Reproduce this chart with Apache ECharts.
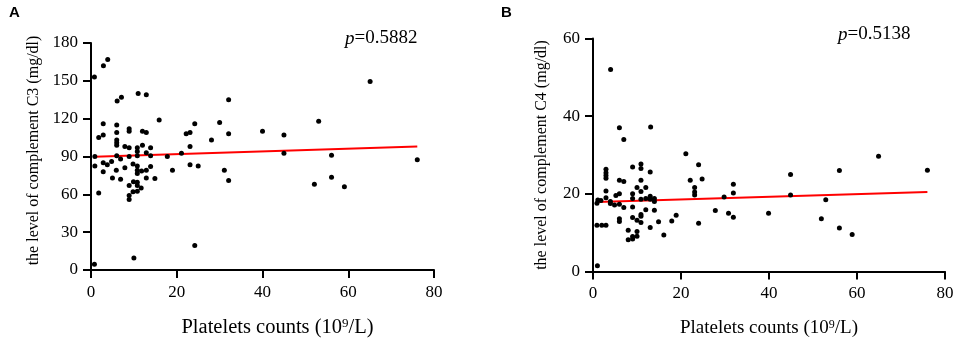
<!DOCTYPE html>
<html><head><meta charset="utf-8">
<script src="https://cdn.jsdelivr.net/npm/echarts@6/dist/echarts.min.js"></script>
<style>html,body{margin:0;padding:0;background:#fff}#c{width:957px;height:343px}</style>
</head><body><div id="c"></div>
<script>
// ---- data ----
const xTicks = [0, 20, 40, 60, 80];
const c3Ticks = [0, 30, 60, 90, 120, 150, 180];
const c4Ticks = [0, 20, 40, 60];

const c3Points = [
  [0.8,153],[2.9,162],[3.9,167],[6.1,134],[7.1,137],[11,140],[12.9,139],[15.9,119],
  [2.85,116],[6.0,115],[1.8,105],[2.85,107],[6.0,109],[8.9,112],[8.9,110],[12.0,110],[12.9,109],
  [6.0,103],[6.0,101],[6.0,99],[7.9,98],[8.9,97],[10.8,97],[10.8,94],[12.0,99],[13.9,97],[12.9,93],
  [0.9,90],[6.0,90.5],[6.9,88],[8.9,90],[10.8,90.5],[13.9,90.5],[17.8,90],
  [0.9,82.5],[2.85,85],[3.8,83.5],[4.8,86],[2.85,78],[5.9,79],[7.9,81],[9.8,84],[10.8,82.5],
  [10.8,79],[10.8,76.5],[11.8,78.5],[12.9,79],[13.9,82],[19.0,79],
  [5.0,73],[6.9,72],[8.9,67],[9.9,70],[10.8,69.5],[10.8,67],[12.9,73],[14.9,72.5],
  [9.8,62],[10.8,62.5],[11.7,65],[8.9,59],[8.9,56],[1.8,61],
  [10,9.5],[0.8,4.5],
  [21.1,92.5],[22.2,108],[23.1,109],[24.2,116],[23.1,98],[23.1,83.5],[24.2,19.5],[25.0,82.5],
  [28.1,103],[30.0,117],[32.1,135],[32.1,108],[31.1,79],[32.1,71],
  [40.0,110],[45.0,107],[45.0,92.5],[53.1,118],[52.1,68],[56.1,91],[56.1,73.5],[59.1,66],
  [65.1,149.5],[76.1,87.5]
];
const c4Points = [
  [1.0,1.5],[4.0,52],[6.0,37],[7.0,34],[13.1,37.2],
  [2.95,26.3],[2.95,25.4],[2.95,24.7],[2.95,24.0],[9.0,26.9],[10.9,27.7],[10.9,26.5],[13.0,25.6],
  [6.0,23.5],[7.0,23.2],[10.9,23.5],[10.0,21.6],[12.0,21.6],[10.9,20.6],[2.95,20.7],[6.0,20.0],
  [5.2,19.6],[9.0,20.0],[13.0,19.4],[2.95,19.0],
  [1.1,18.4],[1.8,18.3],[0.9,17.6],[3.95,18.0],[3.95,17.5],[4.9,17.1],[6.0,17.3],[7.0,16.5],
  [9.0,18.8],[9.0,16.6],[10.9,18.6],[12.0,18.8],[13.0,18.6],[13.95,18.8],[13.95,18.0],
  [12.0,15.9],[13.95,15.8],[10.9,14.7],[10.9,14.2],[10.0,13.2],[9.0,13.9],[6.0,13.6],[6.0,12.9],
  [13.0,11.3],[10.9,12.6],[0.9,11.9],[2.0,11.9],[2.95,11.9],
  [14.9,12.8],[16.1,9.4],[17.9,13.0],[18.9,14.5],
  [8.0,10.6],[8.0,8.2],[9.0,9.0],[9.0,8.4],[10.0,9.1],[10.0,10.3],
  [21.1,30.3],[22.1,23.5],[23.1,21.6],[23.1,20.5],[23.1,19.7],[24.0,27.5],[24.0,12.4],[24.8,23.8],
  [27.8,15.7],[29.8,19.2],[30.8,15.0],[31.9,22.5],[31.9,20.2],[31.9,14.0],[39.9,15.0],
  [44.9,25.0],[44.9,19.7],[51.9,13.6],[52.9,18.5],[56.0,26.0],[56.0,11.2],[58.9,9.5],
  [64.9,29.7],[76.0,26.1]
];
const c3Fit = [[0.8,89.8],[76.1,97.9]];
const c4Fit = [[0.9,17.9],[76.0,20.5]];
const panelLabels = ['A', 'B'];
const pValues = ['0.5882', '0.5138'];
const xTitle = 'Platelets counts (10{sup|9}/L)';
const yTitles = ['the level of complement C3 (mg/dl)', 'the level of complement C4 (mg/dl)'];

// ---- chart ----
const FONT = '"Liberation Serif", "Times New Roman", serif';
const chart = echarts.init(document.getElementById('c'), null, {renderer: 'canvas'});
const axisLineStyle = {color: '#000', width: 2};

function xAxisCfg(gridIndex, fontSize, pad) {
  return {
    type: 'value', gridIndex, min: xTicks[0], max: xTicks[xTicks.length - 1],
    interval: xTicks[1] - xTicks[0],
    splitLine: {show: false},
    axisLine: {show: true, onZero: false, lineStyle: axisLineStyle},
    axisTick: {show: true, length: 8, lineStyle: axisLineStyle},
    axisLabel: {color: '#000', fontFamily: FONT, fontSize: 17, margin: 14, showMinLabel: true, showMaxLabel: true},
    name: xTitle, nameLocation: 'middle', nameGap: 47,
    nameTextStyle: {color: '#000', fontFamily: FONT, fontSize, padding: pad,
      rich: {sup: {fontFamily: FONT, fontSize: Math.round(fontSize * 0.65), verticalAlign: 'top', color: '#000', padding: [0,0,8,0]}}}
  };
}
function yAxisCfg(gridIndex, ticks, gap, title, pad) {
  return {
    type: 'value', gridIndex, min: ticks[0], max: ticks[ticks.length - 1],
    interval: ticks[1] - ticks[0],
    splitLine: {show: false},
    axisLine: {show: true, onZero: false, lineStyle: axisLineStyle},
    axisTick: {show: true, length: 8, lineStyle: axisLineStyle},
    axisLabel: {color: '#000', fontFamily: FONT, fontSize: 17, margin: 13, showMinLabel: true, showMaxLabel: true},
    name: title, nameLocation: 'middle', nameRotate: 90, nameGap: gap,
    nameTextStyle: {color: '#000', fontFamily: FONT, fontSize: 16, padding: pad}
  };
}
function scatter(idx, data) {
  return {type: 'scatter', xAxisIndex: idx, yAxisIndex: idx, data, symbol: 'circle', symbolSize: 5,
    itemStyle: {color: '#000', opacity: 1}, z: 3, silent: true};
}
function fit(idx, data) {
  return {type: 'line', xAxisIndex: idx, yAxisIndex: idx, data, showSymbol: false, symbol: 'none',
    lineStyle: {color: '#ff0000', width: 2}, z: 2, silent: true};
}
function pText(left, top, p) {
  return {type: 'text', left, top, style: {
    text: '{i|p}=' + p, font: '19px ' + FONT, fill: '#000',
    rich: {i: {fontStyle: 'italic', fontFamily: FONT, fontSize: 19, fill: '#000'}}}};
}

chart.setOption({
  animation: false,
  backgroundColor: '#fff',
  grid: [
    {left: 91, top: 43, width: 343, height: 229},
    {left: 593, top: 38.5, width: 352, height: 234}
  ],
  xAxis: [xAxisCfg(0, 20.5, [0, 0, 0, 30]), xAxisCfg(1, 19, 0)],
  yAxis: [yAxisCfg(0, c3Ticks, 49, yTitles[0], [0, 0, 0, 12]), yAxisCfg(1, c4Ticks, 43, yTitles[1], 0)],
  series: [fit(0, c3Fit), scatter(0, c3Points), fit(1, c4Fit), scatter(1, c4Points)],
  graphic: [
    {type: 'text', left: 9, top: 5, style: {text: panelLabels[0], font: 'bold 15px "Liberation Sans", Arial, sans-serif', fill: '#000'}},
    {type: 'text', left: 501, top: 5, style: {text: panelLabels[1], font: 'bold 15px "Liberation Sans", Arial, sans-serif', fill: '#000'}},
    pText(345, 29, pValues[0]),
    pText(838, 25, pValues[1])
  ]
});
</script></body></html>
